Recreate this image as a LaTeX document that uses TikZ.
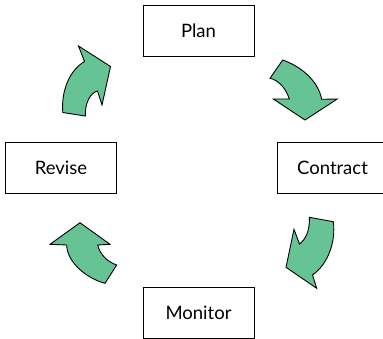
\documentclass[tikz,border=0pt]{standalone}
\usepackage{fontspec}
\setmainfont{Lato}
\usepackage{tikz}
\usetikzlibrary{positioning}
\definecolor{cycleGreen}{RGB}{102, 196, 148}

\begin{document}
\begin{tikzpicture}[
  x=1pt, y=-1pt,
  stage/.style={rectangle, draw, line width=0.9pt, minimum width=111pt, minimum height=51pt, inner sep=0pt, font=\fontsize{18.5}{22}\selectfont},
  turn/.style={fill=cycleGreen, draw=black, line width=0.9pt, line join=miter}
]
  \useasboundingbox (0,0) rectangle (383,339);

  \node[stage] (plan)     at (198.5,30.5)  {Plan};
  \node[stage] (contract) at (332.5,167.5) {Contract};
  \node[stage] (monitor)  at (198.5,312.5) {Monitor};
  \node[stage] (revise)   at (61,167.5)    {Revise};

  % curved block arrows round the cycle
  \draw[turn] (270,78.3) -- (282.7,60) .. controls (300,66) and (318,80) .. (321.7,99.3)
    -- (337.3,99) -- (305,120) -- (273.3,99) -- (289.3,99)
    .. controls (286,88) and (278,80) .. cycle;
  \draw[turn] (309.3,217.3) -- (333.3,221.7) .. controls (336,242) and (328,264) .. (312.5,275)
    -- (316.7,288.3) -- (286,267.3) -- (294,229.3) -- (299.5,244)
    .. controls (306,239) and (310,230) .. cycle;
  \draw[turn] (116.7,265) -- (105,283.3) .. controls (88,279) and (67,263) .. (66.7,245)
    -- (50,244.3) -- (80,222.7) -- (110,244.3) -- (97.7,245)
    .. controls (100,255) and (108,262) .. cycle;
  \draw[turn] (85.3,116) -- (62.8,112.5) .. controls (61,90) and (70,70) .. (84.5,61.5)
    -- (78.5,46) -- (110.5,66.5) -- (102,105) -- (97.5,91)
    .. controls (90,93) and (85,103) .. cycle;
\end{tikzpicture}
\end{document}
